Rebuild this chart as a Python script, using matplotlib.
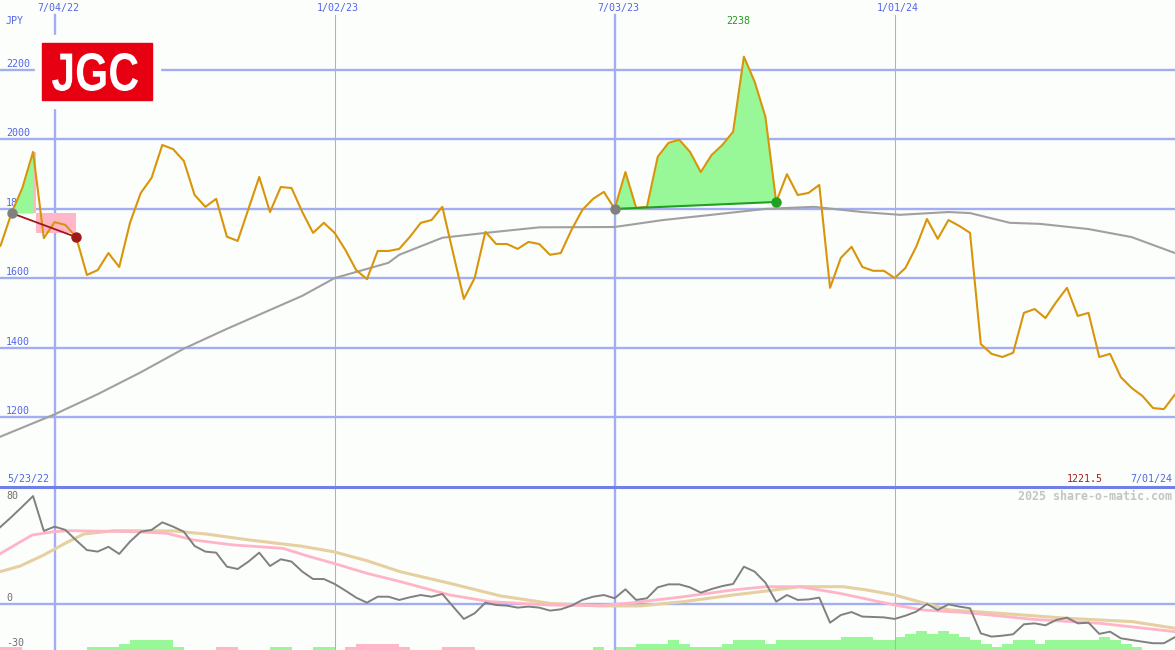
import numpy as np
import pandas as pd
import matplotlib
matplotlib.use('Agg')
import matplotlib.pyplot as plt
from matplotlib.patches import Rectangle, PathPatch
from matplotlib.textpath import TextPath
from matplotlib.font_manager import FontProperties
from matplotlib.transforms import Affine2D

## JGC weekly chart, share-o-matic style
W, H = 1175, 650

## weekly closes in JPY, week 0 = 5/23/22
price = [1660, 1696, 1788, 1860, 1964, 1716, 1762, 1754, 1719, 1610,
         1624, 1673, 1633, 1760, 1846, 1889, 1984, 1972, 1938, 1840,
         1806, 1829, 1720, 1708, 1800, 1892, 1791, 1863, 1860, 1791,
         1731, 1760, 1731, 1682, 1624, 1598, 1679, 1679, 1685, 1720,
         1760, 1768, 1806, 1673, 1541, 1601, 1734, 1699, 1699, 1685,
         1705, 1699, 1668, 1673, 1740, 1797, 1829, 1849, 1800, 1906,
         1803, 1806, 1950, 1990, 1999, 1964, 1906, 1955, 1984, 2022,
         2238, 2166, 2065, 1820, 1900, 1840, 1846, 1869, 1573, 1659,
         1691, 1633, 1622, 1622, 1601, 1630, 1691, 1771, 1714, 1768,
         1751, 1731, 1411, 1383, 1374, 1386, 1501, 1512, 1486, 1532,
         1573, 1492, 1501, 1374, 1383, 1316, 1285, 1262, 1227, 1224,
         1265]
weeks = pd.date_range('2022-05-23', periods=len(price), freq='7D')

## long moving average (grey), read at a few weeks
ma_wk = [0.9, 6, 10, 14, 18, 22, 29, 32, 37, 38, 42, 46, 51, 58, 62.5, 67,
         72, 76.5, 81, 84.5, 89, 91, 94.7, 97.5, 102, 106, 110.03]
ma_val = [1144, 1209, 1267, 1330, 1398, 1455, 1550, 1601, 1645, 1668, 1717,
          1731, 1747, 1748, 1768, 1783, 1800, 1806, 1791, 1783, 1791, 1788,
          1760, 1757, 1742, 1719, 1673]

## oscillator panel
mom = [52, 59.5, 67, 74.9, 83, 56.2, 59.5, 57, 49, 41.5,
       40.3, 44, 38.5, 48, 55.6, 57, 62.8, 59.5, 55.6, 44.6,
       40.3, 39.5, 28.7, 26.9, 32.6, 39.5, 29.2, 34.4, 32.6, 24.9,
       19.2, 19.2, 15.4, 10.3, 4.9, 1, 5.6, 5.6, 3.1, 5.2,
       6.9, 5.6, 7.7, -2, -11.5, -7.2, 1, -0.8, -1.3, -2.8,
       -2, -2.8, -5.1, -4.1, -1.3, 3.1, 5.6, 6.9, 4.4, 11.3,
       3.1, 4.4, 12.8, 15.1, 15.1, 12.8, 8.7, 11.5, 13.8, 15.4,
       28.7, 24.9, 16.4, 1.8, 6.9, 3.1, 3.5, 4.9, -14.4, -8.5,
       -6.2, -9.7, -10, -10.3, -11.5, -9, -5.9, 0, -4.6, -0.3,
       -2, -3.3, -22.6, -25.1, -24.4, -23.3, -15.6, -14.9, -16.4, -12.3,
       -10.5, -14.9, -14.4, -23, -21.3, -26.4, -27.7, -29, -30.2, -30.2,
       -25.6]
pink_wk = [0.9, 3.9, 5.9, 7.4, 13.3, 16.4, 18.9, 22.6, 27.2, 29.7, 31.9, 35,
           38.1, 42.7, 46.4, 52, 56.6, 59.7, 64.4, 69, 72.1, 75.2, 78.9, 84,
           86.6, 90.7, 96.8, 103.1, 110.03]
pink_val = [38.5, 53, 55.6, 56.4, 55.6, 54.4, 49.2, 45.4, 42.8, 36.4, 31.3,
            23.6, 17.2, 6.9, 1.8, -0.8, -1.3, 1, 5.6, 10.8, 13.3, 13.3, 8.2,
            -0.8, -4.6, -6.7, -11.8, -14.9, -21.3]
tan_wk = [0.9, 2.8, 5, 7.1, 8.7, 11.5, 17, 20.1, 24.1, 28.8, 31.9, 35, 38.1,
          42.7, 47.4, 52, 56.6, 60.4, 64.4, 69, 72.1, 75.2, 79.2, 81.4, 84,
          86.6, 89.1, 93.8, 100, 106.1, 110.03]
tan_val = [24.8, 29.2, 37.7, 47.2, 53.8, 56.4, 56.2, 53.8, 49.2, 44.6, 40.2,
           33.3, 24.8, 15.9, 6.2, 0.5, -1.5, -1.5, 1.8, 6.9, 10, 13.3, 13.3,
           10.8, 6.9, 1, -4.6, -7.2, -11, -13.6, -18.7]
## histogram steps per week (+ green / - pink)
hist = [-1, -1, -1, 0, 0, 0, 0, 0, 0, 1,
        1, 1, 2, 3, 3, 3, 3, 1, 0, 0,
        0, -1, -1, 0, 0, 0, 1, 1, 0, 0,
        1, 1, 0, -1, -2, -2, -2, -2, -1, 0,
        0, 0, -1, -1, -1, 0, 0, 0, 0, 0,
        0, 0, 0, 0, 0, 0, 1, 0, 1, 1,
        2, 2, 2, 3, 2, 1, 1, 1, 2, 3,
        3, 3, 2, 3, 3, 3, 3, 3, 3, 4,
        4, 4, 3, 3, 4, 5, 6, 5, 6, 5,
        4, 3, 2, 1, 2, 3, 3, 2, 3, 3,
        3, 3, 3, 4, 3, 2, 1, 0, 0, 0]
hist_step = 2.5

grid_dates = ['2022-07-04', '2023-01-02', '2023-07-03', '2024-01-01']
price_ticks = [1200, 1400, 1600, 1800, 2000, 2200]
osc_ticks = [80, 0, -30]
last_low = 1221.5

trade1 = (2, 8)    # entry, exit week (loss)
trade2 = (58, 73)  # entry, exit week (gain)

bg = '#fcfefc'
gridc = '#a3aef2'
labc = '#5565e6'
orange = '#d9950a'

def datestr(d):
    return f"{d.month}/{d.day:02d}/{d.year % 100:02d}"

fig = plt.figure(figsize=(W / 100, H / 100), dpi=100)
fig.patch.set_facecolor(bg)
ax1 = fig.add_axes([0, 1 - 487 / H, 1, 487 / H])
ax2 = fig.add_axes([0, 0, 1, 163 / H])
for ax in (ax1, ax2):
    ax.set_facecolor(bg)
    ax.set_xlim(0.93, 110.03)
    for s in ax.spines.values():
        s.set_visible(False)
    ax.set_xticks([])
    ax.set_yticks([])
ax1.set_ylim(1000, 2401)
ax2.set_ylim(-35.4, 90)

x = np.arange(len(price))
p = np.array(price, dtype=float)
mono = 'DejaVu Sans Mono'

## grid
for v in price_ticks:
    ax1.axhline(v, color=gridc, lw=1.7, zorder=1)
    ax1.annotate(str(v), xy=(0, v), xycoords=ax1.get_yaxis_transform(),
                 xytext=(6, 6), textcoords='offset pixels', ha='left',
                 va='center', family=mono, size=7.2, color=labc, zorder=1.5)
for d in grid_dates:
    i = int(np.where(weeks == pd.Timestamp(d))[0][0])
    lw = 1.7 if weeks[i].month == 7 else 0.75
    ax1.axvline(i, ymax=1 - 15 / 487, color=gridc, lw=lw, zorder=1)
    ax2.axvline(i, color=gridc, lw=lw, zorder=1)
    ax1.annotate(datestr(weeks[i]), xy=(i, 1), xycoords=ax1.get_xaxis_transform(),
                 xytext=(3.5, -8.5), textcoords='offset pixels', ha='center',
                 va='center', family=mono, size=7.2, color=labc)

## trade 1 (loss): green above entry up to peak, pink box to exit
e, xo = trade1
lvl = p[e]
pk = e + int(np.argmax(p[e:xo + 1]))
ax1.fill_between(x[e:pk + 1], p[e:pk + 1], lvl, where=p[e:pk + 1] >= lvl,
                 color='#98f898', lw=0, zorder=2)
ax1.fill_between([pk, pk + 0.3], lvl, p[pk], color='#ffb6c8', lw=0, zorder=2)
ax1.fill_between([pk + 0.3, xo], p[xo] + 12, lvl, color='#ffb6c8', lw=0, zorder=2)

## trade 2 (gain): green between price and entry/exit line
e2, x2 = trade2
seg = x[e2:x2 + 1]
line2 = np.interp(seg, [e2, x2], [p[e2], p[x2]])
ax1.fill_between(seg, p[e2:x2 + 1], line2, where=p[e2:x2 + 1] >= line2,
                 interpolate=True, color='#98f898', lw=0, zorder=2)

## moving average and price
ax1.plot(ma_wk, ma_val, color='#a0a0a0', lw=1.5, zorder=3)
ax1.plot(x, p, color=orange, lw=1.5, zorder=4)

ax1.plot([e, xo], [p[e], p[xo]], color='#a01818', lw=1.3, zorder=5)
ax1.plot([e2, x2], [p[e2], p[x2]], color='#22a022', lw=1.5, zorder=5)
ax1.plot([e], [p[e]], 'o', ms=6.5, color='#808080', zorder=6)
ax1.plot([xo], [p[xo]], 'o', ms=6.5, color='#a01818', zorder=6)
ax1.plot([e2], [p[e2]], 'o', ms=6.5, color='#808080', zorder=6)
ax1.plot([x2], [p[x2]], 'o', ms=6.5, color='#22a022', zorder=6)

imax = int(np.argmax(p))
ax1.annotate(f"{p[imax]:.0f}", xy=(imax, 1), xycoords=ax1.get_xaxis_transform(),
             xytext=(-6, -21), textcoords='offset pixels', ha='center',
             va='center', family=mono, size=7.2, color='#229922')

## lower panel
ylo = ax2.get_ylim()[0]
h = np.array(hist)
ax2.bar(np.arange(len(h)), np.abs(h) * hist_step, width=1, align='edge',
        bottom=ylo, color=np.where(h > 0, '#98f898', '#ffb6c8'), lw=0, zorder=0.5)
ax2.axhline(0, color=gridc, lw=1.7, zorder=1)
ax2.plot(tan_wk, tan_val, color='#e6cfa0', lw=2.2, zorder=2)
ax2.plot(pink_wk, pink_val, color='#ffb4c8', lw=2, zorder=2.5)
ax2.plot(x, mom, color='#808080', lw=1.4, zorder=3)
ax2.axhline(ax2.get_ylim()[1], color='#7080e8', lw=2.2, zorder=4, clip_on=False)

for v, dy in zip(osc_ticks, [4, 6, 0]):
    ax2.annotate(str(v), xy=(0, v), xycoords=ax2.get_yaxis_transform(),
                 xytext=(6, dy), textcoords='offset pixels', ha='left',
                 va='center', family=mono, size=7.2, color='#707070')

def ftext(px, py, s, **kw):
    fig.text(px / W, 1 - py / H, s, **kw)

ftext(6, 21, 'JPY', ha='left', va='center', family=mono, size=7.2, color=labc)
ftext(7, 479, datestr(weeks[0]), ha='left', va='center', family=mono, size=7.2, color=labc)
ftext(1172, 479, datestr(weeks[-1]), ha='right', va='center', family=mono, size=7.2, color=labc)
ftext(1085, 479, f"{last_low}", ha='center', va='center', family=mono, size=7.2, color='#a02020')
ftext(1172, 496, '2025 share-o-matic.com', ha='right', va='center', family=mono,
      weight='bold', size=8.4, color='#c4c4c4')

## logo: red box, "JGC" squeezed into its box
fig.add_artist(Rectangle((35 / W, 1 - 108 / H), 125 / W, 73 / H,
                         transform=fig.transFigure, color=bg, zorder=5))
fig.add_artist(Rectangle((42 / W, 1 - 100 / H), 110 / W, 57 / H,
                         transform=fig.transFigure, color='#e60012', zorder=6))
tp = TextPath((0, 0), 'JGC', size=1,
              prop=FontProperties(family='Liberation Sans', weight='bold'))
bb = tp.get_extents()
tr = (Affine2D().translate(-bb.x0, -bb.y0)
      .scale(86 / W / bb.width, 38 / H / bb.height)
      .translate(52 / W, 1 - 91 / H) + fig.transFigure)
fig.add_artist(PathPatch(tp, transform=tr, facecolor='white', lw=0, zorder=7))

plt.savefig('out.png', dpi=100, facecolor=bg)
plt.close()
